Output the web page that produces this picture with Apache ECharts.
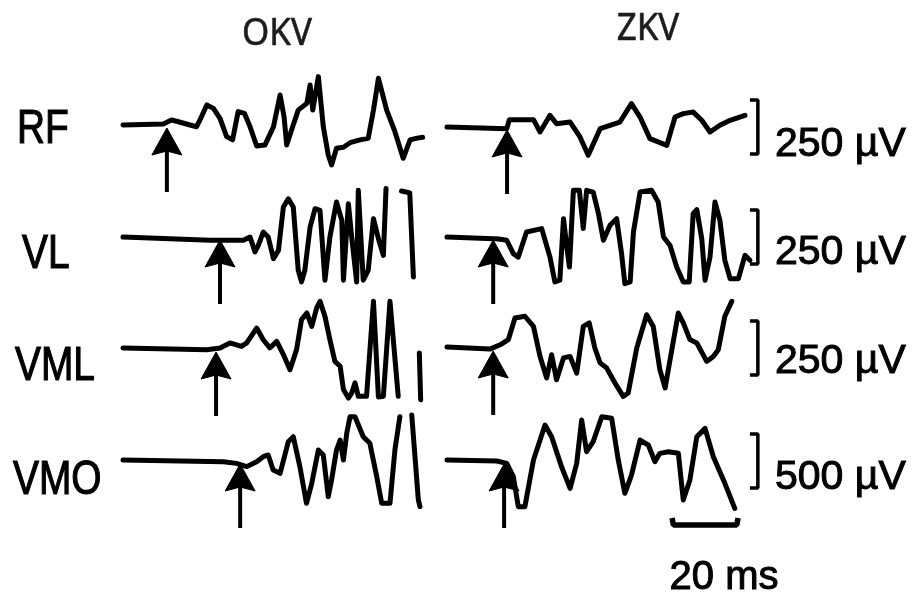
<!DOCTYPE html>
<html>
<head>
<meta charset="utf-8">
<title>EMG onset traces</title>
<script src="https://cdn.jsdelivr.net/npm/echarts@6/dist/echarts.min.js"></script>
<style>
  html, body { margin: 0; padding: 0; background: #fff; }
  #chart { width: 914px; height: 601px; }
</style>
</head>
<body>
<div id="chart"></div>
<script>
// ---- data: time in ms from trace start, amplitude in µV ----
const muscles = ['RF', 'VL', 'VML', 'VMO'];
const conditions = ['OKV', 'ZKV'];
const scaleBarUV = [250, 250, 250, 500];
const scaleLabels = ['250 µV', '250 µV', '250 µV', '500 µV'];
const timeBarMs = 20;
const timeLabel = '20 ms';

// EMG onset times (arrows), ms
const okvOnsets = [13.3, 29.4, 28.2, 35.5];
const zkvOnsets = [18.2, 14.0, 14.0, 17.3];

const rfOkv = [[0,0],[12.2,5],[14.7,23],[16.8,15],[20.3,0],[22.3,-8],[23.8,39],[25.4,93],[27.4,77],[29.4,31],[31.4,-54],[33.2,-69],[34.9,62],[36.8,54],[38.5,-8],[40.5,-97],[43.0,-93],[45.6,-8],[47.6,139],[48.8,39],[49.6,-93],[51.4,-8],[53.1,69],[55.7,100],[56.7,185],[57.5,69],[59.2,224],[60.7,-8],[62.2,-139],[63.2,-185],[64.7,-108],[66.8,-103],[68.8,-82],[71.8,-69],[74.3,-62],[75.9,69],[77.4,216],[79.9,69],[82.4,-31],[84.9,-154],[87.0,-69],[88.8,-62],[90.8,-57]];
const rfZkv = [[0,0],[18.1,-8],[18.9,34],[26.2,34],[28.2,-23],[31.2,54],[33.2,15],[37.3,23],[40.3,-46],[42.8,-131],[46.4,-8],[49.4,8],[52.4,23],[55.9,108],[58.5,46],[61.5,-54],[66.6,-85],[69.1,46],[71.6,62],[74.6,69],[77.2,31],[79.7,-23],[82.7,8],[85.8,31],[90.3,54]];
const vlOkv = [[0,0],[26.4,-15],[36.5,-15],[38.5,0],[40,-69],[41,-39],[42.5,23],[44,0],[45.6,-100],[47.1,-62],[48.6,139],[50.1,177],[51.6,139],[53.1,-154],[54.1,-208],[55.1,-154],[56.7,46],[58.2,131],[59.7,123],[61.2,-200],[62.7,0],[64.7,162],[66.3,77],[66.8,-200],[68.3,154],[69.3,0],[70.8,-208],[71.3,216],[72.8,-200],[74.3,-154],[75.9,85],[77.4,-8],[78.9,-85],[79.7,224],[81,'-'],[84.4,213],[86.9,204],[88,-185]];
const vlZkv = [[0,0],[14,-8],[15.1,-8],[18.1,-15],[20.1,-77],[21.6,-93],[24.1,23],[28.7,39],[31.2,-93],[32.7,-208],[34.2,-200],[35.3,85],[36.3,-46],[37.1,-139],[38.3,216],[40.1,216],[41.3,39],[42.3,216],[44.3,208],[45.9,108],[47.4,-15],[49.4,54],[51.4,85],[52.9,-77],[53.9,-216],[55.5,-208],[56.5,23],[58.5,208],[62,216],[64,162],[65.6,0],[67.6,-39],[69.6,-139],[71.6,-208],[73.4,-208],[74.6,108],[75.7,127],[77.2,-8],[78.2,-200],[79.7,-93],[81.2,162],[82.7,77],[84.2,-108],[85.8,-193],[88.3,-193],[90.3,-85],[91.8,-108]];
const vmlOkv = [[0,5],[25.4,-3],[29.4,5],[32.4,28],[35.9,12],[37.5,28],[40.5,97],[42.5,43],[44.5,5],[46.6,35],[48.6,-26],[50.6,-96],[52.6,-3],[54.1,136],[55.7,167],[57.2,105],[58.7,190],[59.7,221],[61.2,151],[62.7,43],[64.2,-57],[65.8,-80],[66.8,-188],[68.3,-227],[69.3,-204],[70.3,-157],[71.3,-219],[73.8,-219],[75.9,221],[77.4,-222],[78.9,-219],[80.9,221],[83.4,-219],[86,'-'],[89.8,-19],[90.2,-235]];
const vmlZkv = [[0,5],[13,-5],[16.1,15],[18.6,39],[20.6,139],[23.6,147],[26.2,100],[28.2,-39],[30.2,-139],[31.7,-31],[33.2,-147],[35.3,-46],[37.3,-39],[39.3,-116],[41.3,100],[43.1,116],[44.8,0],[46.4,-69],[48.4,-93],[50.9,-162],[53.4,-224],[54.9,-208],[57.5,0],[60.5,154],[62.5,100],[64.5,-100],[66.1,-185],[67.6,-54],[70.1,162],[71.6,116],[73.6,39],[75.7,23],[78.7,-62],[80.7,-39],[82.2,-8],[84.2,147],[86.3,216]];
const vmoOkv = [[0,9],[30.4,-6],[34.4,-22],[37.5,-52],[40.5,-6],[42.5,40],[44,56],[45.5,-83],[47.6,-114],[50.1,179],[51.6,225],[53.6,-52],[55.6,-392],[57.2,-207],[59.2,102],[60.7,56],[62.2,-330],[63.2,-176],[64.7,102],[65.8,194],[66.8,9],[67.8,256],[68.8,410],[70.3,410],[72.8,225],[74.8,164],[76.9,-145],[78.4,-392],[80.9,-392],[82.4,102],[83.9,410],[85.5,'-'],[87.5,426],[89.5,-361],[90,-423]];
const vmoZkv = [[0,9],[15.1,0],[18.1,-22],[20.1,-145],[21.6,-423],[23.6,-423],[26.2,9],[29.7,333],[31.7,225],[34.7,-52],[37.3,-253],[39.3,-22],[40.8,380],[42.3,86],[44.3,179],[46.9,410],[49.9,395],[51.9,9],[53.9,-299],[55.9,-130],[58.5,194],[61.0,148],[63.0,-6],[64.5,71],[67.1,86],[70.1,71],[71.6,-361],[73.6,-176],[75.7,225],[78.2,302],[80.7,40],[84.2,-207],[87.2,-438]];

const traces = [
  [rfOkv, rfZkv],
  [vlOkv, vlZkv],
  [vmlOkv, vmlZkv],
  [vmoOkv, vmoZkv]
];
const onsets = [okvOnsets, zkvOnsets];

// ---- layout ----
const PX_PER_MS = 3.3;
const PX_PER_UV = 54 / 250;          // recording gain of RF, VL, VML
const GAIN = [1, 1, 1, 0.5];         // VMO drawn at half gain
const X_MAX = 95;
const HALF_H = 95;                   // grid half height, px
const COL_LEFT = [123, 447];
const BASELINE = [[125, 127], [237, 237], [349, 348], [461, 461]];
const BRACKET_T = 94.2;              // ms position of amplitude bars (right column)
const BRACKET_TICK = 2.4;
const TIME_BAR_START = 68.2;
const INK = '#000';
const TRACE_W = 5;

const grids = [], xAxes = [], yAxes = [], series = [];

function arrowItem(params, api) {
  const p = api.coord([api.value(0), 0]);
  const x = p[0], y = p[1] + 3;
  const w = 30, h = 27, len = 64;
  return {
    type: 'group',
    children: [
      { type: 'line', shape: { x1: x, y1: y + h - 6, x2: x, y2: y + len },
        style: { stroke: INK, lineWidth: 4 } },
      { type: 'polygon',
        shape: { points: [[x, y], [x + w / 2, y + h], [x, y + h - 4], [x - w / 2, y + h]] },
        style: { fill: INK, stroke: INK, lineWidth: 1, lineJoin: 'round' } }
    ]
  };
}

for (let r = 0; r < muscles.length; r++) {
  const pxPerUV = PX_PER_UV * GAIN[r];
  const yRange = HALF_H / pxPerUV;
  for (let c = 0; c < conditions.length; c++) {
    const gi = grids.length;
    grids.push({
      left: COL_LEFT[c],
      top: BASELINE[r][c] - HALF_H,
      width: X_MAX * PX_PER_MS,
      height: HALF_H * 2,
      containLabel: false,
      show: false
    });
    xAxes.push({ gridIndex: gi, type: 'value', min: 0, max: X_MAX, show: false });
    yAxes.push({ gridIndex: gi, type: 'value', min: -yRange, max: yRange, show: false });

    series.push({
      name: muscles[r] + ' ' + conditions[c],
      type: 'line',
      xAxisIndex: gi, yAxisIndex: gi,
      data: traces[r][c],
      showSymbol: false,
      connectNulls: false,
      clip: false,
      lineStyle: { color: INK, width: TRACE_W, join: 'round', cap: 'round' },
      silent: true
    });

    series.push({
      type: 'custom',
      xAxisIndex: gi, yAxisIndex: gi,
      data: [[onsets[c][r], 0]],
      renderItem: arrowItem,
      clip: false,
      silent: true
    });

    if (c === 1) {
      const s = scaleBarUV[r] / 2;
      series.push({
        type: 'line',
        xAxisIndex: gi, yAxisIndex: gi,
        data: [[BRACKET_T - BRACKET_TICK, s], [BRACKET_T, s], [BRACKET_T, -s], [BRACKET_T - BRACKET_TICK, -s]],
        showSymbol: false,
        clip: false,
        lineStyle: { color: INK, width: 3.5 },
        silent: true
      });
    }
    if (r === muscles.length - 1 && c === 1) {
      // 20 ms time bar beneath the last trace
      const vBar = -64 / pxPerUV, vTick = -57 / pxPerUV;
      series.push({
        type: 'line',
        xAxisIndex: gi, yAxisIndex: gi,
        data: [[TIME_BAR_START, vTick], [TIME_BAR_START + 0.4, vBar], [TIME_BAR_START + timeBarMs - 0.4, vBar], [TIME_BAR_START + timeBarMs, vTick]],
        showSymbol: false,
        clip: false,
        lineStyle: { color: INK, width: 5.5 },
        silent: true
      });
    }
  }
}

// ---- text ----
const LABEL_FONT = '48px "Liberation Sans", Arial, sans-serif';
const rowLabelX = [17, 22, 15, 13];
const rowLabelY = [130, 255, 367, 481];
const scaleLabelY = [145, 253, 362, 478];
const graphics = [];
muscles.forEach((m, i) => {
  graphics.push({
    type: 'text', x: rowLabelX[i], y: rowLabelY[i], scaleX: 0.81,
    style: { text: m, font: LABEL_FONT, fill: INK, stroke: INK, lineWidth: 1.2,
      textAlign: 'left', textVerticalAlign: 'middle' }
  });
  graphics.push({
    type: 'text', x: 775, y: scaleLabelY[i],
    style: { text: scaleLabels[i], font: '41px "Liberation Sans", Arial, sans-serif', fill: INK, stroke: INK, lineWidth: 1,
      textAlign: 'left', textVerticalAlign: 'middle' }
  });
});
const headerX = [277, 648];
const headerY = [34, 29];
conditions.forEach((cName, i) => {
  graphics.push({
    type: 'text', x: headerX[i], y: headerY[i], scaleX: 0.92,
    style: { text: cName, font: '38px "Noto Sans", "Open Sans", sans-serif', fill: '#1c1c1c', stroke: '#1c1c1c', lineWidth: 0.6,
      textAlign: 'center', textVerticalAlign: 'middle' }
  });
});
graphics.push({
  type: 'text', x: 724, y: 578,
  style: { text: timeLabel, font: '40px "Liberation Sans", Arial, sans-serif', fill: INK, stroke: INK, lineWidth: 1,
    textAlign: 'center', textVerticalAlign: 'middle' }
});

const chart = echarts.init(document.getElementById('chart'), null, { renderer: 'canvas' });
chart.setOption({
  animation: false,
  backgroundColor: '#fff',
  grid: grids,
  xAxis: xAxes,
  yAxis: yAxes,
  series: series,
  graphic: graphics
});
</script>
</body>
</html>
